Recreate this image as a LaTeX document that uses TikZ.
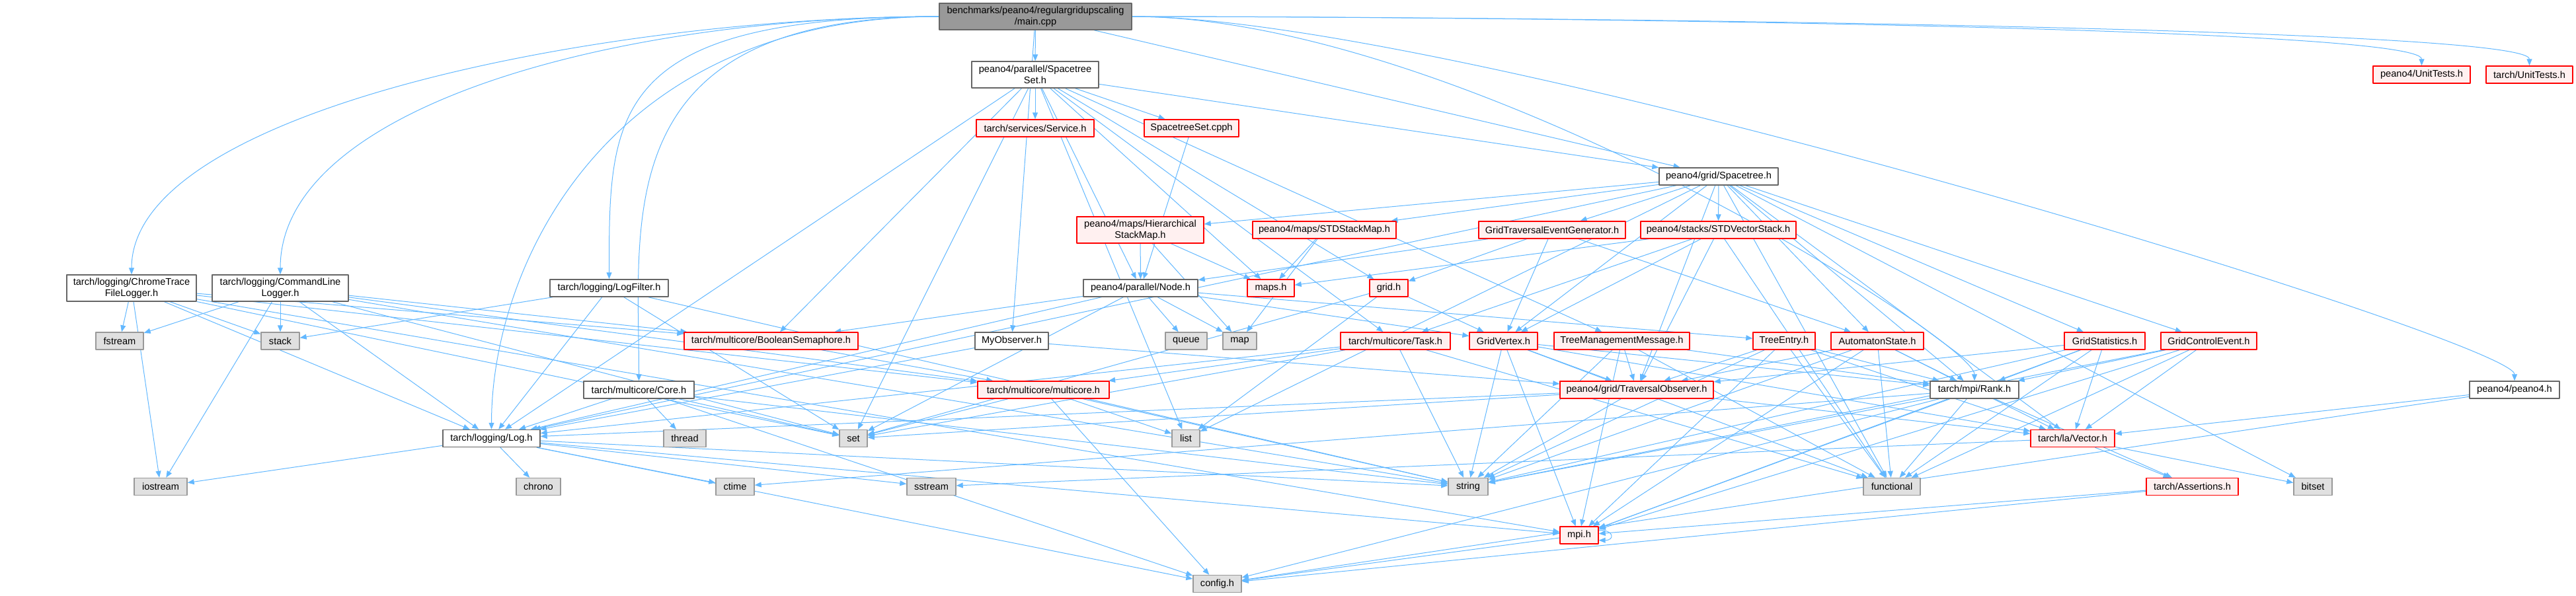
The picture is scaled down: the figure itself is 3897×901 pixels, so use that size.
\documentclass[tikz,border=0pt]{standalone}
\usepackage{fontspec}
\setmainfont{Liberation Sans}
\usetikzlibrary{arrows.meta,backgrounds}
\definecolor{edgeblue}{RGB}{99,184,255}
\definecolor{boxgray}{RGB}{102,102,102}
\definecolor{sysfill}{RGB}{224,224,224}
\definecolor{sysline}{RGB}{153,153,153}
\definecolor{redfill}{RGB}{255,240,240}
\definecolor{mainfill}{RGB}{153,153,153}
\tikzset{
  hdr/.style={rectangle, draw=boxgray, fill=white, line width=0.7pt, inner sep=0pt, minimum height=13pt, font=\fontsize{7.3}{8.6}\selectfont},
  two/.style={minimum height=20pt, align=center},
  bw/.style={minimum width=#1*0.5pt},
  undoc/.style={hdr, draw=red, fill=redfill},
  sys/.style={hdr, draw=sysline, fill=sysfill},
  top/.style={hdr, two, draw=boxgray, fill=mainfill},
  edge/.style={draw=edgeblue, line width=0.5pt, -{Triangle[length=5pt,width=4pt]}}
}
\begin{document}
\begin{tikzpicture}[x=0.5pt, y=-0.5pt, line join=round]
\useasboundingbox (0,0) rectangle (3897,901);
% rows from the top
\node[top, bw=291] (main) at (1566.5,25) {benchmarks/peano4/regulargridupscaling\\/main.cpp};
\node[hdr, two, bw=192] (stset) at (1566,113) {peano4/parallel/Spacetree\\Set.h};
\node[undoc, bw=178] (service) at (1566,194) {tarch/services/Service.h};
\node[undoc, bw=143] (cpph) at (1802.5,194) {SpacetreeSet.cpph};
\node[hdr, bw=180] (spacetree) at (2600,267) {peano4/grid/Spacetree.h};
\node[undoc, bw=147] (p4unit) at (3663.5,113) {peano4/UnitTests.h};
\node[undoc, bw=131] (tunit) at (3826.5,113) {tarch/UnitTests.h};

\node[undoc, two, bw=192] (hsm) at (1725,348) {peano4/maps/Hierarchical\\StackMap.h};
\node[undoc, bw=217] (stdsm) at (2003.5,348) {peano4/maps/STDStackMap.h};
\node[undoc, bw=222] (gteg) at (2348,348) {GridTraversalEventGenerator.h};
\node[undoc, bw=235] (stdvs) at (2599.5,348) {peano4/stacks/STDVectorStack.h};

\node[hdr, two, bw=196] (chrome) at (199,436) {tarch/logging/ChromeTrace\\FileLogger.h};
\node[hdr, two, bw=206] (cmdline) at (424,436) {tarch/logging/CommandLine\\Logger.h};
\node[hdr, bw=179] (logfilter) at (921.5,436) {tarch/logging/LogFilter.h};
\node[hdr, bw=173] (node) at (1725.5,436) {peano4/parallel/Node.h};
\node[undoc, bw=71] (maps) at (1922.5,436) {maps.h};
\node[undoc, bw=58] (gridh) at (2101,436) {grid.h};

\node[sys, bw=72] (fstream) at (181,516) {fstream};
\node[sys, bw=58] (stack) at (424,516) {stack};
\node[undoc, bw=263] (bsem) at (1166.5,516) {tarch/multicore/BooleanSemaphore.h};
\node[hdr, bw=111] (myobs) at (1530.5,516) {MyObserver.h};
\node[sys, bw=63] (queue) at (1794.5,516) {queue};
\node[sys, bw=51] (map) at (1875.5,516) {map};
\node[undoc, bw=166] (task) at (2111,516) {tarch/multicore/Task.h};
\node[undoc, bw=103] (gvertex) at (2274.5,516) {GridVertex.h};
\node[undoc, bw=205] (tmm) at (2453.5,516) {TreeManagementMessage.h};
\node[undoc, bw=94] (tentry) at (2699,516) {TreeEntry.h};
\node[undoc, bw=140] (astate) at (2840,516) {AutomatonState.h};
\node[undoc, bw=122] (gstats) at (3184,516) {GridStatistics.h};
\node[undoc, bw=145] (gce) at (3341.5,516) {GridControlEvent.h};

\node[hdr, bw=167] (core) at (966.5,590) {tarch/multicore/Core.h};
\node[undoc, bw=199] (multicore) at (1578.5,590) {tarch/multicore/multicore.h};
\node[undoc, bw=232] (tobs) at (2476,590) {peano4/grid/TraversalObserver.h};
\node[hdr, bw=134] (rank) at (2987,590) {tarch/mpi/Rank.h};
\node[hdr, bw=136] (p4) at (3804,590) {peano4/peano4.h};

\node[hdr, bw=147] (log) at (743.5,663.5) {tarch/logging/Log.h};
\node[sys, bw=64] (thread) at (1036,663.5) {thread};
\node[sys, bw=42] (set) at (1291,663.5) {set};
\node[sys, bw=42] (list) at (1794,663.5) {list};
\node[undoc, bw=127] (vector) at (3135.5,663.5) {tarch/la/Vector.h};

\node[sys, bw=80] (iostream) at (243,736.5) {iostream};
\node[sys, bw=67] (chrono) at (814.5,736.5) {chrono};
\node[sys, bw=58] (ctime) at (1112,736.5) {ctime};
\node[sys, bw=74] (sstream) at (1409,736.5) {sstream};
\node[sys, bw=60] (string) at (2221,736.5) {string};
\node[sys, bw=86] (functional) at (2862,736.5) {functional};
\node[undoc, bw=139] (assertions) at (3316.5,736.5) {tarch/Assertions.h};
\node[sys, bw=58] (bitset) at (3499,736.5) {bitset};

\node[undoc, bw=58] (mpi) at (2389,810) {mpi.h};
\node[sys, bw=73] (config) at (1841.5,883.5) {config.h};

\begin{scope}[on background layer]
\foreach \t in {chrome,cmdline,logfilter,core,log}
  \draw[edge] (main.west) .. controls +(-500,0) and +(0,-250) .. (\t.north);
\foreach \t in {p4unit,tunit,p4,rank}
  \draw[edge] (main.east) .. controls +(500,0) and +(0,-60) .. (\t.north);
\foreach \t in {myobs,stset,spacetree}
  \draw[edge] (main) -- (\t);
\foreach \t in {service,cpph,spacetree,tmm,task,gridh,log,bsem,list,maps,node,set}
  \draw[edge] (stset) -- (\t);
\draw[edge] (cpph) -- (node);
\foreach \t in {hsm,stdsm,gteg,stdvs,astate,gstats,gce,gvertex,tobs,log,vector,list,functional,rank,bitset}
  \draw[edge] (spacetree) -- (\t);
\foreach \t in {fstream,stack,iostream,log,mpi,bsem,multicore,set}
  \draw[edge] (chrome) -- (\t);
\foreach \t in {fstream,stack,iostream,log,bsem,multicore,set,string}
  \draw[edge] (cmdline) -- (\t);
\foreach \t in {stack,set,string,log}
  \draw[edge] (logfilter) -- (\t);
\foreach \t in {log,thread,set,string,config}
  \draw[edge] (core) -- (\t);
\draw[edge] (bsem) -- (multicore);
\foreach \t in {set,list,config,string}
  \draw[edge] (multicore) -- (\t);
\foreach \t in {node,maps,map}
  \draw[edge] (hsm) -- (\t);
\foreach \t in {bsem,queue,map,log,set,gvertex,tentry}
  \draw[edge] (node) -- (\t);
\foreach \t in {maps,map}
  \draw[edge] (stdsm) -- (\t);
\foreach \t in {gridh,gvertex,astate,node}
  \draw[edge] (gteg) -- (\t);
\foreach \t in {task,gvertex,tobs,maps,functional}
  \draw[edge] (stdvs) -- (\t);
\foreach \t in {gvertex,set,list}
  \draw[edge] (gridh) -- (\t);
\foreach \t in {log,multicore,string,functional,set}
  \draw[edge] (task) -- (\t);
\foreach \t in {tobs,log}
  \draw[edge] (myobs) -- (\t);
\foreach \t in {vector,set,log,string}
  \draw[edge] (tobs) -- (\t);
% generated data classes
\foreach \s in {gvertex,tmm,tentry,astate,gstats,gce}
  \foreach \t in {rank,string,functional,mpi}
    \draw[edge] (\s) -- (\t);
\foreach \s in {gvertex,tmm,tentry,astate,gstats}
  \draw[edge] (\s) -- (tobs);
\foreach \s in {gvertex,tentry,astate,gstats,gce,p4}
  \draw[edge] (\s) -- (vector);
\foreach \t in {mpi,functional,string,assertions,config,ctime}
  \draw[edge] (rank) -- (\t);
\foreach \t in {assertions,bitset,sstream}
  \draw[edge] (vector) -- (\t);
\foreach \t in {config,mpi}
  \draw[edge] (assertions) -- (\t);
\foreach \t in {iostream,chrono,ctime,sstream,string,mpi,config}
  \draw[edge] (log) -- (\t);
\draw[edge] (p4) -- (config);
\draw[edge] (mpi) -- (config);
\draw[edge] ([yshift=-3pt]mpi.north east) .. controls +(12pt,0pt) and +(12pt,0pt) .. ([yshift=3pt]mpi.south east);
\end{scope}
\end{tikzpicture}
\end{document}
